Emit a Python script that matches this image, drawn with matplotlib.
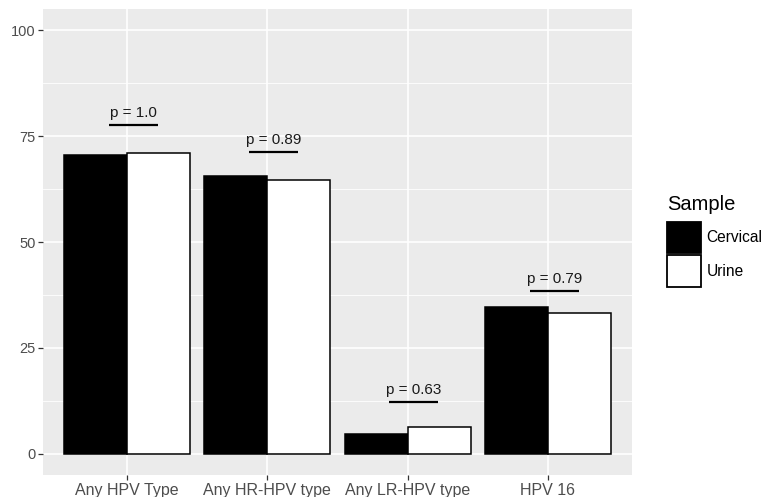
import numpy as np
import matplotlib
matplotlib.use("Agg")
import matplotlib.pyplot as plt
from matplotlib.patches import Patch

plt.rcParams['font.family'] = ['Liberation Sans', 'DejaVu Sans']

# data
categories = ["Any HPV Type", "Any HR-HPV type", "Any LR-HPV type", "HPV 16"]
cervical = [70.5, 65.6, 4.7, 34.7]
urine = [71.1, 64.6, 6.4, 33.3]
p_labels = ["p = 1.0", "p = 0.89", "p = 0.63", "p = 0.79"]
p_heights = [77.6, 71.3, 12.3, 38.4]

x = np.arange(1, len(categories) + 1)
w = 0.45

fig = plt.figure(figsize=(7.64, 4.97), dpi=100)
ax = fig.add_axes([43/764, 1 - 475/497, (632 - 43)/764, (475 - 9)/497])
ax.set_facecolor('#EBEBEB')

ax.bar(x - w/2, cervical, width=w, color='black', edgecolor='black', linewidth=1.1, zorder=3)
ax.bar(x + w/2, urine, width=w, color='white', edgecolor='black', linewidth=1.1, zorder=3)

# significance lines
for xi, h, lab in zip(x, p_heights, p_labels):
    x0, x1 = xi - 0.13, xi + 0.22
    ax.plot([x0, x1], [h, h], color='black', linewidth=1.6, zorder=4, solid_capstyle='butt')
    ax.text((x0 + x1) / 2, h + 1.2, lab, ha='center', va='bottom', fontsize=11, color='#1A1A1A', zorder=4)

ax.set_xlim(0.4, 4.6)
ax.set_ylim(-5, 105)
ax.set_xticks(x)
ax.set_xticklabels(categories)
ax.set_yticks([0, 25, 50, 75, 100])
ax.set_yticks([12.5, 37.5, 62.5, 87.5], minor=True)

ax.grid(True, which='major', color='white', linewidth=1.2, zorder=0)
ax.grid(True, which='minor', axis='y', color='white', linewidth=0.6, zorder=0)
ax.set_axisbelow(True)
for s in ax.spines.values():
    s.set_visible(False)

ax.tick_params(axis='both', which='major', length=3.3, width=0.9, color='#333333',
               labelcolor='#4D4D4D', labelsize=10.5)
ax.tick_params(axis='x', pad=2.5, labelsize=11.5)
ax.tick_params(axis='y', pad=2)
ax.tick_params(which='minor', length=0)

# legend
fig.text(667/764, 1 - 195/497, 'Sample', fontsize=14.5, ha='left', va='top')
handles = [Patch(facecolor='black', edgecolor='black', linewidth=1.3, label='Cervical'),
           Patch(facecolor='white', edgecolor='black', linewidth=1.3, label='Urine')]
leg = fig.legend(handles=handles, loc='upper left',
                 bbox_to_anchor=(667/764, 1 - 222/497), frameon=False,
                 fontsize=11.2, handlelength=2.2, handleheight=2.7,
                 handletextpad=0.35, labelspacing=0.15, borderpad=0, borderaxespad=0)

fig.savefig("out.png", dpi=100)
